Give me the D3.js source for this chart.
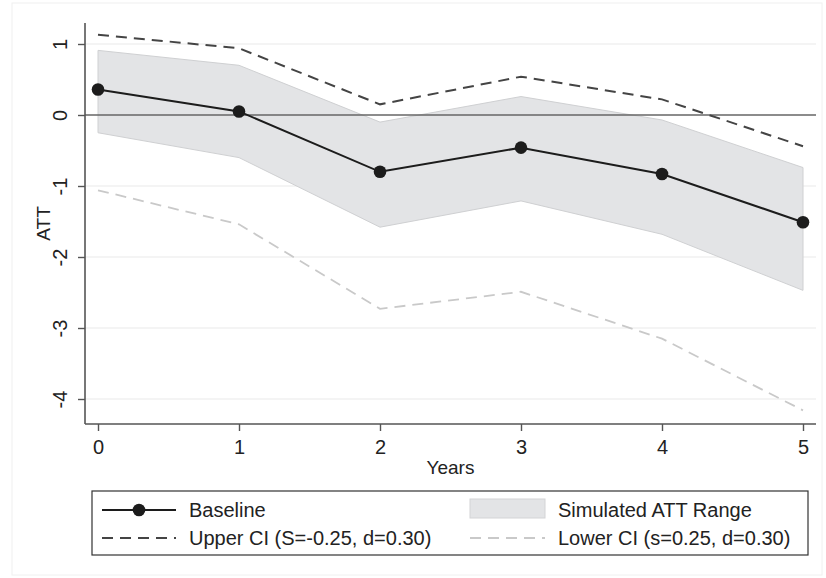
<!DOCTYPE html>
<html>
<head>
<meta charset="utf-8">
<script src="https://cdn.jsdelivr.net/npm/d3@7"></script>
<style>
  body { margin: 0; background: #fff; }
  text { font-family: "Liberation Sans", Arial, sans-serif; fill: #222; }
</style>
</head>
<body>
<div id="chart"></div>
<script>
// data
var years = [0, 1, 2, 3, 4, 5];
var baseline = [0.36, 0.05, -0.80, -0.46, -0.83, -1.51];
var simHigh = [0.91, 0.70, -0.10, 0.26, -0.07, -0.74];
var simLow = [-0.25, -0.60, -1.58, -1.21, -1.68, -2.47];
var upperCI = [1.13, 0.94, 0.15, 0.54, 0.22, -0.44];
var lowerCI = [-1.06, -1.54, -2.73, -2.49, -3.15, -4.16];
var yTicks = [1, 0, -1, -2, -3, -4];
var legendLabels = ["Baseline", "Simulated ATT Range", "Upper CI (S=-0.25, d=0.30)", "Lower CI (s=0.25, d=0.30)"];

var W = 826, H = 578;
// plot region edges (pixels)
var plotL = 85, plotR = 816, plotT = 23, plotB = 424;

var svg = d3.select("#chart").append("svg")
    .attr("width", W)
    .attr("height", H);

// faint outer graph-region border
svg.append("rect")
    .attr("x", 12).attr("y", 3)
    .attr("width", 810).attr("height", 572)
    .attr("fill", "none")
    .attr("stroke", "#f0f0f0");

var x = d3.scaleLinear().domain([0, 5]).range([98, 803]);
var y = d3.scaleLinear().domain([-4, 1]).range([399, 44]);

// gridlines
svg.append("g").selectAll("line")
    .data(yTicks.filter(function(d) { return d !== 0; }))
  .enter().append("line")
    .attr("x1", plotL).attr("x2", plotR)
    .attr("y1", function(d) { return y(d); })
    .attr("y2", function(d) { return y(d); })
    .attr("stroke", "#e9e9e9")
    .attr("stroke-width", 1.2);

// simulated range band
var area = d3.area()
    .x(function(d, i) { return x(years[i]); })
    .y0(function(d, i) { return y(simLow[i]); })
    .y1(function(d) { return y(d); });

svg.append("path")
    .datum(simHigh)
    .attr("d", area)
    .attr("fill", "#e3e4e6")
    .attr("stroke", "#cfd0d2")
    .attr("stroke-width", 1);

// zero line
svg.append("line")
    .attr("x1", plotL).attr("x2", plotR)
    .attr("y1", y(0)).attr("y2", y(0))
    .attr("stroke", "#666")
    .attr("stroke-width", 1.6);

var line = d3.line()
    .x(function(d, i) { return x(years[i]); })
    .y(function(d) { return y(d); });

svg.append("path")
    .datum(lowerCI)
    .attr("d", line)
    .attr("fill", "none")
    .attr("stroke", "#c9c9c9")
    .attr("stroke-width", 1.8)
    .attr("stroke-dasharray", "11,7");

svg.append("path")
    .datum(upperCI)
    .attr("d", line)
    .attr("fill", "none")
    .attr("stroke", "#444")
    .attr("stroke-width", 2)
    .attr("stroke-dasharray", "11,7");

svg.append("path")
    .datum(baseline)
    .attr("d", line)
    .attr("fill", "none")
    .attr("stroke", "#1c1c1c")
    .attr("stroke-width", 2);

svg.selectAll(".dot")
    .data(baseline)
  .enter().append("circle")
    .attr("class", "dot")
    .attr("cx", function(d, i) { return x(years[i]); })
    .attr("cy", function(d) { return y(d); })
    .attr("r", 6.3)
    .attr("fill", "#1c1c1c");

// axes
svg.append("line")
    .attr("x1", plotL).attr("x2", plotL)
    .attr("y1", plotT).attr("y2", plotB)
    .attr("stroke", "#555").attr("stroke-width", 1.6);
svg.append("line")
    .attr("x1", plotL).attr("x2", plotR)
    .attr("y1", plotB).attr("y2", plotB)
    .attr("stroke", "#555").attr("stroke-width", 1.6);

var yAxis = svg.append("g")
    .attr("transform", "translate(" + plotL + ",0)")
    .call(d3.axisLeft(y).tickValues(yTicks).tickSize(7).tickPadding(0).tickFormat(function(d) { return String(d); }));
yAxis.select(".domain").remove();
yAxis.selectAll(".tick line").attr("stroke", "#555").attr("stroke-width", 1.4);
yAxis.selectAll(".tick text")
    .attr("x", 0).attr("dy", 0)
    .attr("transform", "translate(-25,0) rotate(-90)")
    .attr("text-anchor", "middle")
    .attr("dominant-baseline", "central")
    .style("font-size", "20px")
    .style("font-family", null)
    .attr("fill", "#222");

var xAxis = svg.append("g")
    .attr("transform", "translate(0," + plotB + ")")
    .call(d3.axisBottom(x).tickValues(years).tickSize(7).tickPadding(9).tickFormat(function(d) { return String(d); }));
xAxis.select(".domain").remove();
xAxis.selectAll(".tick line").attr("stroke", "#555").attr("stroke-width", 1.4);
xAxis.selectAll(".tick text")
    .style("font-size", "20px")
    .style("font-family", null)
    .attr("fill", "#222");

// axis titles
svg.append("text")
    .attr("transform", "translate(43," + ((plotT + plotB) / 2) + ") rotate(-90)")
    .attr("text-anchor", "middle")
    .attr("dominant-baseline", "central")
    .style("font-size", "19px")
    .text("ATT");

svg.append("text")
    .attr("x", (plotL + plotR) / 2)
    .attr("y", 474)
    .attr("text-anchor", "middle")
    .style("font-size", "19px")
    .text("Years");

// legend
var lg = svg.append("g");
lg.append("rect")
    .attr("x", 92).attr("y", 491)
    .attr("width", 716).attr("height", 64)
    .attr("fill", "#fff")
    .attr("stroke", "#333")
    .attr("stroke-width", 1.2);

var row1 = 510, row2 = 538;
// Baseline
lg.append("line").attr("x1", 102).attr("x2", 176).attr("y1", row1).attr("y2", row1)
    .attr("stroke", "#1c1c1c").attr("stroke-width", 2);
lg.append("circle").attr("cx", 139).attr("cy", row1).attr("r", 6.3).attr("fill", "#1c1c1c");
// Upper CI
lg.append("line").attr("x1", 102).attr("x2", 176).attr("y1", row2).attr("y2", row2)
    .attr("stroke", "#444").attr("stroke-width", 2).attr("stroke-dasharray", "11,7");
// Simulated range swatch
lg.append("rect").attr("x", 470).attr("y", 499).attr("width", 75).attr("height", 19)
    .attr("fill", "#e3e4e6").attr("stroke", "#d3d4d6");
// Lower CI
lg.append("line").attr("x1", 470).attr("x2", 545).attr("y1", row2).attr("y2", row2)
    .attr("stroke", "#c9c9c9").attr("stroke-width", 1.8).attr("stroke-dasharray", "11,7");

var legendPos = [[189, row1], [558, row1], [189, row2], [558, row2]];
lg.selectAll(".lgtext")
    .data(legendLabels)
  .enter().append("text")
    .attr("class", "lgtext")
    .attr("x", function(d, i) { return legendPos[i][0]; })
    .attr("y", function(d, i) { return legendPos[i][1]; })
    .attr("dominant-baseline", "central")
    .style("font-size", "20px")
    .text(function(d) { return d; });
</script>
</body>
</html>
